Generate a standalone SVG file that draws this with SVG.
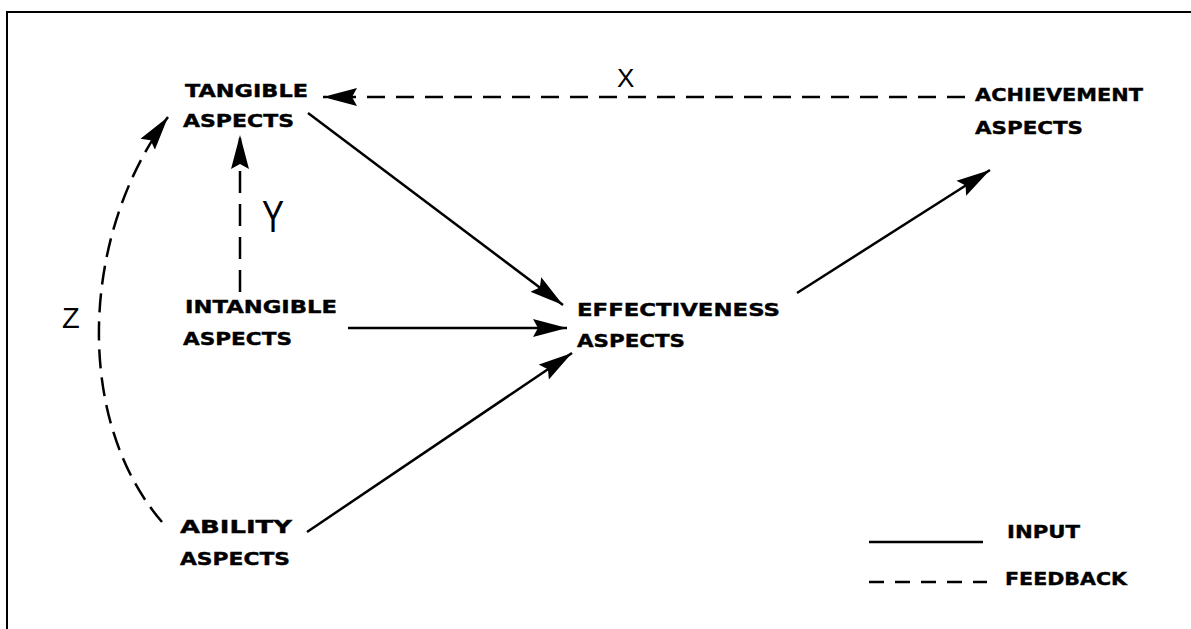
<svg xmlns="http://www.w3.org/2000/svg" width="1191" height="629" viewBox="0 0 1191 629">
  <defs>
    <style>
      .lbl { font-family: "DejaVu Sans", "Liberation Sans", sans-serif; font-weight: bold; font-size: 18.5px; fill: #000; stroke: #000; stroke-width: 0.4; }
      .hand { font-family: "Liberation Sans", "DejaVu Sans", sans-serif; font-weight: normal; fill: #000; }
      .solid { fill: none; stroke: #000; stroke-width: 2.5; }
      .dash { fill: none; stroke: #000; stroke-width: 2.5; stroke-dasharray: 18 11; }
      .frame { fill: none; stroke: #000; stroke-width: 2; }
    </style>
    <marker id="ah" markerUnits="userSpaceOnUse" markerWidth="36" markerHeight="20" refX="34" refY="10" orient="auto" viewBox="0 0 36 20">
      <path d="M0,1 L34,10 L0,19 L5,10 z" fill="#000" stroke="none"/>
    </marker>
  </defs>
  <rect width="1191" height="629" fill="#fff"/>
  <g id="frame">
    <path class="frame" d="M7,629 L7,12 L1191,12"/>
  </g>
  <g id="connectors">
    <path class="solid" d="M308,113 L563,305" marker-end="url(#ah)"/>
    <path class="solid" d="M348,328 L567,328" marker-end="url(#ah)"/>
    <path class="solid" d="M307,532 L572,353" marker-end="url(#ah)"/>
    <path class="solid" d="M797,293 L990,170" marker-end="url(#ah)"/>
    <path class="dash" d="M965,97 L323,97" marker-end="url(#ah)"/>
    <path class="dash" d="M240,292 L240,135" marker-end="url(#ah)" style="stroke-dasharray: 22 11"/>
    <path class="dash" d="M162,522 C74,420 80,235 168,117" marker-end="url(#ah)" style="stroke-dasharray: 19 9"/>
    <text class="hand" x="617" y="87" font-size="26">X</text>
    <text class="hand" x="262" y="232" font-size="44" transform="translate(262 232) scale(0.75 1) translate(-262 -232)">Y</text>
    <text class="hand" x="62" y="328" font-size="29">Z</text>
  </g>
  <g id="tangible">
    <text class="lbl" x="185" y="97" textLength="123" lengthAdjust="spacingAndGlyphs">TANGIBLE</text>
    <text class="lbl" x="183" y="127" textLength="111" lengthAdjust="spacingAndGlyphs">ASPECTS</text>
  </g>
  <g id="intangible">
    <text class="lbl" x="185" y="313" textLength="152" lengthAdjust="spacingAndGlyphs">INTANGIBLE</text>
    <text class="lbl" x="183" y="345" textLength="109" lengthAdjust="spacingAndGlyphs">ASPECTS</text>
  </g>
  <g id="ability">
    <text class="lbl" x="180" y="533" textLength="112" lengthAdjust="spacingAndGlyphs">ABILITY</text>
    <text class="lbl" x="180" y="565" textLength="110" lengthAdjust="spacingAndGlyphs">ASPECTS</text>
  </g>
  <g id="effectiveness">
    <text class="lbl" x="577" y="316" textLength="203" lengthAdjust="spacingAndGlyphs">EFFECTIVENESS</text>
    <text class="lbl" x="577" y="347" textLength="108" lengthAdjust="spacingAndGlyphs">ASPECTS</text>
  </g>
  <g id="achievement">
    <text class="lbl" x="975" y="101" textLength="168" lengthAdjust="spacingAndGlyphs">ACHIEVEMENT</text>
    <text class="lbl" x="975" y="134" textLength="108" lengthAdjust="spacingAndGlyphs">ASPECTS</text>
  </g>
  <g id="legend">
    <path class="solid" d="M869,542 L983,542"/>
    <path class="dash" d="M869,582 L987,582" style="stroke-dasharray: 15 11"/>
    <text class="lbl" x="1007" y="538" textLength="73" lengthAdjust="spacingAndGlyphs">INPUT</text>
    <text class="lbl" x="1005" y="585" textLength="122" lengthAdjust="spacingAndGlyphs">FEEDBACK</text>
  </g>
</svg>
